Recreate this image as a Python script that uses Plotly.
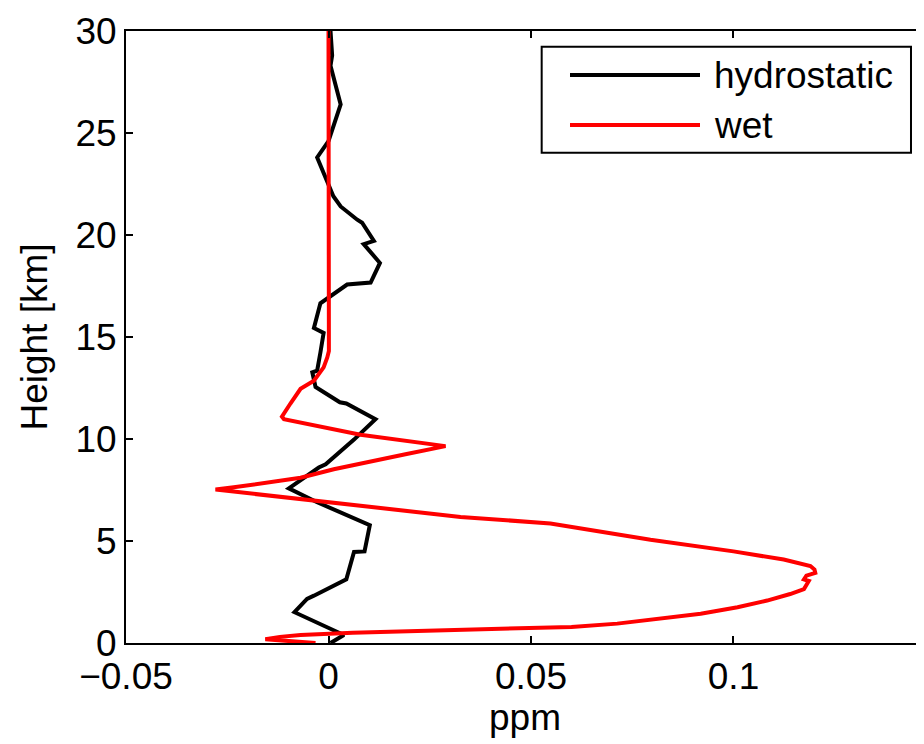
import plotly.graph_objects as go

# ---- data ----
hydro_height = [0, 0.39, 1.51, 2.16, 2.32, 3.12, 4.46, 4.49, 5.78, 6.9, 7.58, 8.6, 8.76, 9.97,
                10.97, 11.74, 11.8, 12.55, 13.27, 13.35, 14.24, 15.2, 15.44, 16.65, 17.57,
                17.67, 18.63, 19.55, 19.71, 20.6, 20.75, 21.4, 21.9, 22.04, 23.8, 24.6, 26.4,
                28.3, 28.8, 30]
hydro_ppm = [0.0005, 0.0038, -0.0084, -0.0053, -0.0036, 0.0044, 0.0063, 0.0089, 0.0102, -0.0028,
             -0.0098, -0.0024, -0.0007, 0.0063, 0.0116, 0.0044, 0.0028, -0.0032, -0.0040,
             -0.0028, -0.0020, -0.0012, -0.0036, -0.0020, 0.0046, 0.0104, 0.0127, 0.0087,
             0.0112, 0.0083, 0.0071, 0.0030, 0.0012, 0.0009, -0.0028, 0.0000, 0.0030,
             0.0005, 0.0009, 0.0005]

wet_height = [0, 0.18, 0.30, 0.39, 0.5, 0.6, 0.7, 0.79, 0.95, 1.2, 1.43, 1.75, 2.08, 2.4,
              2.64, 3.04, 3.12, 3.3, 3.44, 3.6, 3.77, 4.09, 4.49, 5.06, 5.62, 5.86, 6.18,
              6.99, 7.52, 7.63, 8.1, 8.52, 8.84, 9.25, 9.65, 10.21, 10.97, 11.1, 11.74,
              12.46, 12.86, 13.2, 13.51, 14.0, 14.31, 30]
wet_ppm = [-0.0032, -0.0156, -0.0120, -0.0069, 0.0060, 0.0250, 0.0420, 0.0600, 0.0713,
           0.0830, 0.0919, 0.1010, 0.1083, 0.1140, 0.1174, 0.1186, 0.1174, 0.1180, 0.1202,
           0.1200, 0.1190, 0.1124, 0.1000, 0.0795, 0.0622, 0.0548, 0.0326, -0.0028,
           -0.0279, -0.0234, -0.0069, 0.0013, 0.0096, 0.0190, 0.0289, 0.0079, -0.0110,
           -0.0115, -0.0094, -0.0069, -0.0036, -0.0022, -0.0012, -0.0003, 0.0001, 0.0]

series_names = ["hydrostatic", "wet"]
series_colors = ["#000000", "#ff0000"]

x_range = [-0.05, 0.14704]
x_tickvals = [-0.05, 0, 0.05, 0.1]
x_ticktext = ["\u22120.05", "0", "0.05", "0.1"]
y_tickvals = [0, 5, 10, 15, 20, 25, 30]

FONT = "Liberation Sans, Arial, sans-serif"
FS = 37

fig = go.Figure()
fig.add_trace(go.Scatter(x=hydro_ppm, y=hydro_height, mode="lines", name=series_names[0],
                         line=dict(color=series_colors[0], width=4), showlegend=False))
fig.add_trace(go.Scatter(x=wet_ppm, y=wet_height, mode="lines", name=series_names[1],
                         line=dict(color=series_colors[1], width=4), showlegend=False))

# manual legend box (paper coords)
fig.add_shape(type="rect", xref="paper", yref="paper", x0=0.5209, x1=0.9837, y0=0.8011, y1=0.9743,
              line=dict(color="black", width=2), fillcolor="white", layer="above")
legend_y = [0.9281, 0.8464]
for name, color, yy in zip(series_names, series_colors, legend_y):
    fig.add_shape(type="line", xref="paper", yref="paper", x0=0.5564, x1=0.7193, y0=yy, y1=yy,
                  line=dict(color=color, width=4), layer="above")
    fig.add_annotation(x=0.7343, y=yy, xref="paper", yref="paper", text=name, showarrow=False,
                       xanchor="left", yanchor="middle", font=dict(size=FS, color="black", family=FONT))

# page body has an 8px margin: offset the figure so the axes land where the reference has them
fig.update_layout(
    width=924, height=744,
    margin=dict(l=118, r=8, t=23, b=109),
    paper_bgcolor="white", plot_bgcolor="white",
    font=dict(family=FONT, size=FS, color="black"),
    showlegend=False,
)
fig.update_xaxes(range=x_range, tickvals=x_tickvals, ticktext=x_ticktext,
                 ticks="inside", ticklen=7, tickwidth=2, tickcolor="black",
                 showline=True, linecolor="black", linewidth=2, mirror="ticks",
                 showgrid=False, zeroline=False, automargin=False,
                 ticklabeloverflow="allow",
                 title=dict(text="ppm", font=dict(size=FS), standoff=4),
                 tickfont=dict(size=FS))
fig.update_yaxes(range=[0, 30], tickvals=y_tickvals,
                 ticks="inside", ticklen=7, tickwidth=2, tickcolor="black",
                 showline=True, linecolor="black", linewidth=2, mirror=False,
                 showgrid=False, zeroline=False, automargin=False, ticklabeloverflow="allow",
                 title=dict(text="Height [km]", font=dict(size=FS), standoff=16),
                 tickfont=dict(size=FS))

fig.write_html("out.html")
